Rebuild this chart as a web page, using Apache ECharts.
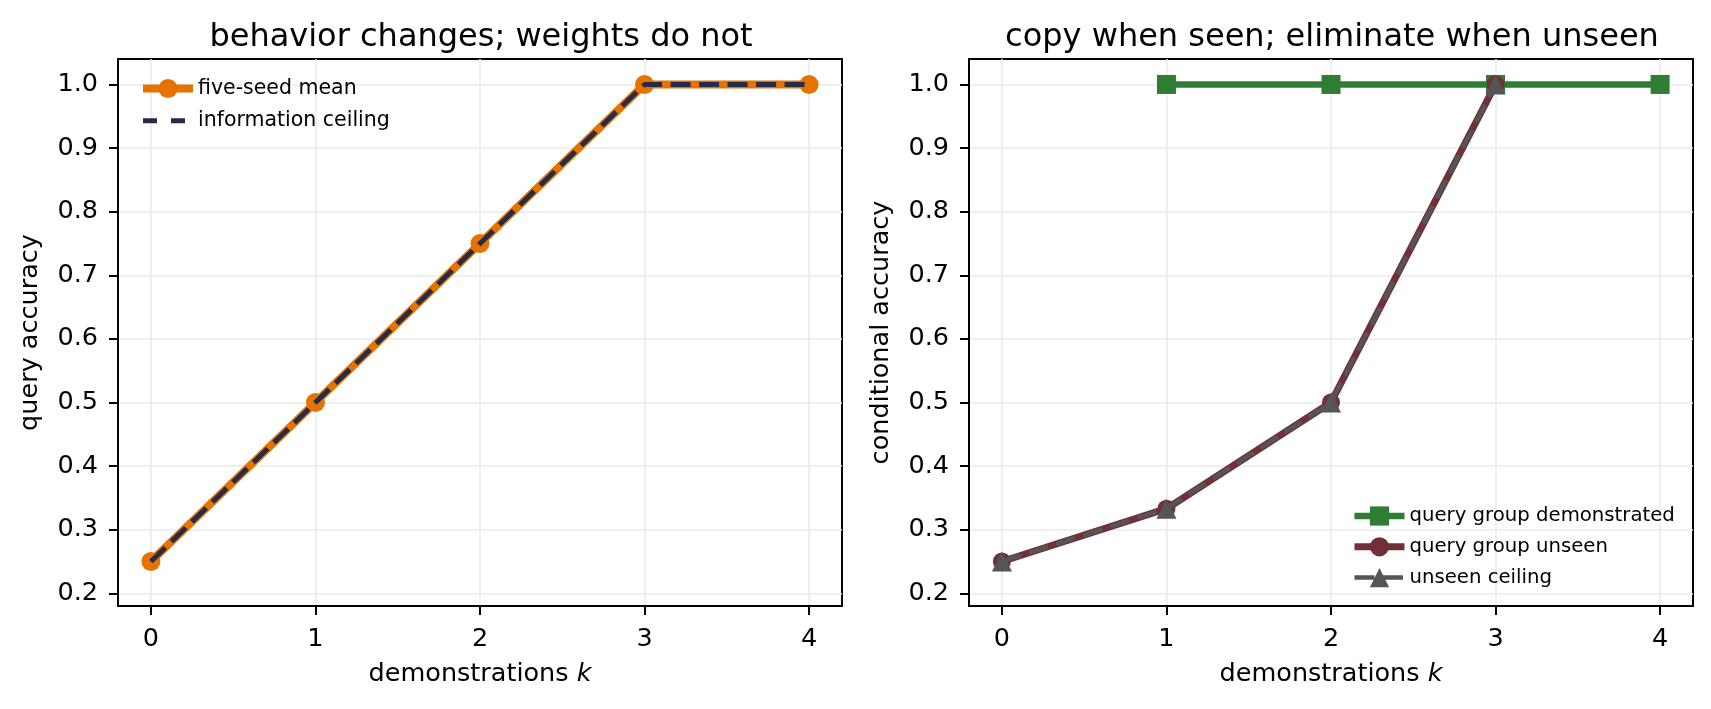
<!DOCTYPE html>
<html>
<head>
<meta charset="utf-8">
<script src="https://cdn.jsdelivr.net/npm/echarts@6/dist/echarts.min.js"></script>
<style>
  html, body { margin: 0; padding: 0; background: #ffffff; }
  #chart { width: 1711px; height: 709px; }
</style>
</head>
<body>
<div id="chart"></div>
<script>
// 刻度
const xTicks = [0, 1, 2, 3, 4]
const yTicks = [0.2, 0.3, 0.4, 0.5, 0.6, 0.7, 0.8, 0.9, 1.0]
// 左图数据
const kAll = [0, 1, 2, 3, 4]
const seedMean = [0.25, 0.5, 0.75, 1.0, 1.0]
const infoCeiling = [0.25, 0.5, 0.75, 1.0, 1.0]
// 右图数据
const kDemo = [1, 2, 3, 4]
const groupDemo = [1.0, 1.0, 1.0, 1.0]
const kUnseen = [0, 1, 2, 3]
const groupUnseen = [0.25, 0.333, 0.5, 1.0]
const unseenCeiling = [0.25, 0.333, 0.5, 1.0]

const FONT = 'DejaVu Sans'
const pairs = (xs, ys) => xs.map((x, i) => [x, ys[i]])

const makeX = (idx) => ({
  type: 'value',
  gridIndex: idx,
  min: -0.2,
  max: 4.2,
  name: '{n|demonstrations }{i|k}',
  nameLocation: 'middle',
  nameGap: 55,
  nameMoveOverlap: false,
  nameTextStyle: {
    rich: {
      n: { fontFamily: FONT, fontSize: 25.5, color: '#000' },
      i: { fontFamily: FONT, fontSize: 25.5, color: '#000', fontStyle: 'italic' }
    }
  },
  axisLine: { show: true, onZero: false, lineStyle: { color: '#000', width: 2 } },
  axisTick: { show: true, inside: false, length: 9, lineStyle: { color: '#000', width: 2 }, customValues: xTicks },
  axisLabel: { fontFamily: FONT, fontSize: 25.5, color: '#000', margin: 20, customValues: xTicks, formatter: v => String(v) },
  splitLine: { show: true, lineStyle: { color: '#ebebeb', width: 1.6 } }
})

const makeY = (idx, name) => ({
  type: 'value',
  gridIndex: idx,
  min: 0.18,
  max: 1.04,
  name: name,
  nameLocation: 'middle',
  nameGap: 75,
  nameMoveOverlap: false,
  nameTextStyle: { fontFamily: FONT, fontSize: 25.5, color: '#000' },
  axisLine: { show: true, onZero: false, lineStyle: { color: '#000', width: 2 } },
  axisTick: { show: true, inside: false, length: 9, lineStyle: { color: '#000', width: 2 }, customValues: yTicks },
  axisLabel: { fontFamily: FONT, fontSize: 25.5, color: '#000', margin: 20, customValues: yTicks, formatter: v => v.toFixed(1) },
  splitLine: { show: true, lineStyle: { color: '#ebebeb', width: 1.6 } }
})

const makeGrid = (left) => ({
  left: left,
  top: 59,
  width: 724,
  height: 547,
  show: true,
  borderColor: '#000',
  borderWidth: 2,
  backgroundColor: 'transparent',
  containLabel: false,
  outerBoundsMode: 'none'
})

const legendBase = {
  orient: 'vertical',
  itemWidth: 50,
  itemHeight: 24,
  textStyle: { fontFamily: FONT, fontSize: 20.5, color: '#000' },
  itemStyle: { color: 'inherit', borderColor: 'inherit' },
  lineStyle: { width: 'inherit', color: 'inherit' },
  selectedMode: false
}

const option = {
  animation: false,
  backgroundColor: '#ffffff',
  title: [{
    text: 'behavior changes; weights do not',
    left: 476,
    top: 17,
    textAlign: 'center',
    textStyle: { fontFamily: FONT, fontSize: 32, fontWeight: 'normal', color: '#000' }
  }, {
    text: 'copy when seen; eliminate when unseen',
    left: 1327,
    top: 17,
    textAlign: 'center',
    textStyle: { fontFamily: FONT, fontSize: 32, fontWeight: 'normal', color: '#000' }
  }],
  legend: [Object.assign({}, legendBase, {
    data: [
      { name: 'five-seed mean' },
      { name: 'information ceiling', itemStyle: { opacity: 0 }, lineStyle: { type: [14, 14] } }
    ],
    left: 134,
    top: 73,
    itemGap: 11.3
  }), Object.assign({}, legendBase, {
    data: [
      { name: 'query group demonstrated' },
      { name: 'query group unseen' },
      { name: 'unseen ceiling', lineStyle: { type: [20, 8.5] } }
    ],
    textStyle: { fontFamily: FONT, fontSize: 19.7, color: '#000' },
    left: 1346,
    top: 501,
    itemGap: 10.8
  })],
  grid: [makeGrid(118), makeGrid(969)],
  xAxis: [makeX(0), makeX(1)],
  yAxis: [makeY(0, 'query accuracy'), makeY(1, 'conditional accuracy')],
  series: [{
    name: 'five-seed mean',
    type: 'line',
    xAxisIndex: 0,
    yAxisIndex: 0,
    data: pairs(kAll, seedMean),
    symbol: 'circle',
    symbolSize: 19,
    lineStyle: { color: '#e67300', width: 8 },
    itemStyle: { color: '#e67300' },
    z: 2
  }, {
    name: 'information ceiling',
    type: 'line',
    xAxisIndex: 0,
    yAxisIndex: 0,
    data: pairs(kAll, infoCeiling),
    symbol: 'none',
    lineStyle: { color: '#262b48', width: 5, type: [20, 8.5] },
    itemStyle: { color: '#262b48' },
    z: 3
  }, {
    name: 'query group demonstrated',
    type: 'line',
    xAxisIndex: 1,
    yAxisIndex: 1,
    data: pairs(kDemo, groupDemo),
    symbol: 'rect',
    symbolSize: 19,
    lineStyle: { color: '#2e7d32', width: 6.5 },
    itemStyle: { color: '#2e7d32' },
    z: 2
  }, {
    name: 'query group unseen',
    type: 'line',
    xAxisIndex: 1,
    yAxisIndex: 1,
    data: pairs(kUnseen, groupUnseen),
    symbol: 'circle',
    symbolSize: 18,
    lineStyle: { color: '#722f37', width: 7 },
    itemStyle: { color: '#722f37' },
    z: 3
  }, {
    name: 'unseen ceiling',
    type: 'line',
    xAxisIndex: 1,
    yAxisIndex: 1,
    data: pairs(kUnseen, unseenCeiling),
    symbol: 'triangle',
    symbolSize: 20,
    lineStyle: { color: '#555555', width: 4.5, type: [20, 8.5] },
    itemStyle: { color: '#555555' },
    z: 4
  }]
}

const chart = echarts.init(document.getElementById('chart'), null, { renderer: 'canvas' })
chart.setOption(option)
</script>
</body>
</html>
